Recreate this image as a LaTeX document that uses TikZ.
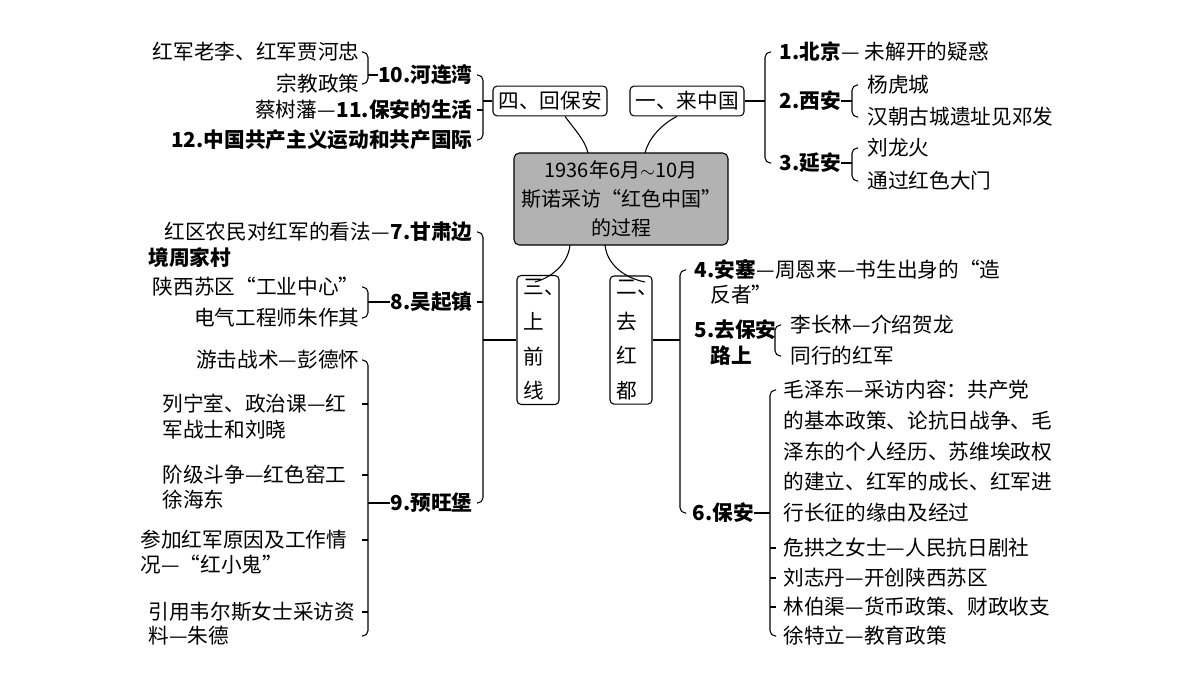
\documentclass[tikz,border=0pt]{standalone}
\usepackage{fontspec}
\setmainfont{Noto Sans CJK SC}
\begin{document}
\begin{tikzpicture}[x=0.75pt,y=-0.75pt,line width=0.8pt,
  every node/.style={font=\fontsize{15.5}{18}\selectfont,inner sep=0pt},
  tw/.style={anchor=west}, te/.style={anchor=east},
  lb/.style={font=\fontsize{15.5}{18}\selectfont\bfseries},
  box/.style={draw,rounded corners=3pt,inner sep=4pt,line width=0.8pt},
  vbox/.style={draw,rounded corners=3pt,minimum width=42\pgflinewidth,text width=22pt,align=left,minimum height=116*0.75pt,inner sep=3pt,font=\fontsize{15.5}{26}\selectfont},
  brk/.style={rounded corners=4pt}]
\useasboundingbox (0,0) rectangle (1200,675);
% center
\node[draw,rounded corners=4pt,fill=black!30,minimum width=214*0.75pt,minimum height=92*0.75pt,align=center,font=\fontsize{15}{22}\selectfont] (c) at (621,199) {1936年6月$\sim$10月\\斯诺采访“红色中国”\\的过程};
\node[box] (b1) at (687,101) {一、来中国};
\node[box] (b4) at (550,101) {四、回保安};
\node[vbox,minimum width=42*0.75pt] (b3) at (538,340) {三、\\上\\前\\线};
\node[vbox,minimum width=42*0.75pt] (b2) at (631,340) {二、\\去\\红\\都};
\draw (b4.south) ++(15,0) coordinate (p4) .. controls (575,130) and (585,140) .. (588,153);
\draw (b1.south) ++(-10,0) .. controls (660,125) and (648,140) .. (645,153);
\draw (570,245) .. controls (568,265) and (550,278) .. (535,282);
\draw (605,245) .. controls (607,265) and (625,278) .. (645,282);

% right top
\draw (b1.east) -- (765,101);
\draw[brk] (771,52) -- (765,52) -- (765,163) -- (771,163);
\node[tw,lb] (n1) at (779,52) {1.北京};
\node[tw] (n1a) at (n1.east) {— 未解开的疑惑};
\node[tw,lb] (n2) at (779,101) {2.西安};
\node[tw,lb] (n3) at (779,163) {3.延安};
\draw (n2.east) -- (852,101); \draw (n3.east) -- (852,163);
\draw[brk] (858,85) -- (852,85) -- (852,117) -- (858,117);
\draw[brk] (858,148) -- (852,148) -- (852,181) -- (858,181);
\node[tw] at (867,85) {杨虎城};
\node[tw] at (867,117) {汉朝古城遗址见邓发};
\node[tw] at (867,148) {刘龙火};
\node[tw] at (867,181) {通过红色大门};

% right bottom
\draw (b2.east) -- (680,340);
\draw[brk] (686,270) -- (680,270) -- (680,513) -- (686,513);
\node[tw,lb] (n4) at (694,270) {4.安塞};
\node[tw] at (n4.east) {—周恩来—书生出身的“造};
\node[tw] at (710,295) {反者”};
\node[tw,lb] (n5) at (694,330) {5.去保安};
\node[tw,lb] at (710,356) {路上};
\draw[brk] (781,325) -- (775,325) -- (775,356) -- (781,356);
\node[tw] at (790,325) {李长林—介绍贺龙};
\node[tw] at (790,356) {同行的红军};
\node[tw,lb] (n6) at (692,513) {6.保安};
\draw (n6.east) -- (770,513);
\draw[brk] (776,390) -- (770,390) -- (770,636) -- (776,636);
\foreach \y in {548,578,607} \draw (770,\y) -- (776,\y);
\node[tw] at (783,390) {毛泽东—采访内容：共产党};
\node[tw] at (783,421) {的基本政策、论抗日战争、毛};
\node[tw] at (783,452) {泽东的个人经历、苏维埃政权};
\node[tw] at (783,482) {的建立、红军的成长、红军进};
\node[tw] at (783,513) {行长征的缘由及经过};
\node[tw] at (783,548) {危拱之女士—人民抗日剧社};
\node[tw] at (783,578) {刘志丹—开创陕西苏区};
\node[tw] at (783,607) {林伯渠—货币政策、财政收支};
\node[tw] at (783,636) {徐特立—教育政策};

% left top
\draw (b4.west) -- (483,101);
\draw[brk] (477,75) -- (483,75) -- (483,140) -- (477,140);
\draw (477,110) -- (483,110);
\node[te,lb] (n10) at (473,75) {10.河连湾};
\node[te,lb] (n11) at (473,110) {11.保安的生活};
\node[te] at (n11.west) {蔡树藩—};
\node[te,lb] (n12) at (473,140) {12.中国共产主义运动和共产国际};
\draw (n10.west) -- (368,75);
\draw[brk] (362,52) -- (368,52) -- (368,84) -- (362,84);
\node[te] at (360,52) {红军老李、红军贾河忠};
\node[te] at (360,84) {宗教政策};

% left bottom
\draw (b3.west) -- (483,340);
\draw[brk] (477,232) -- (483,232) -- (483,503) -- (477,503);
\draw (477,302) -- (483,302);
\node[te,lb] (n7) at (473,232) {7.甘肃边};
\node[te] at (n7.west) {红区农民对红军的看法— };
\node[tw,lb] at (148,258) {境周家村};
\node[te,lb] (n8) at (473,302) {8.吴起镇};
\draw (n8.west) -- (368,302);
\draw[brk] (362,287) -- (368,287) -- (368,318) -- (362,318);
\node[te] at (360,287) {陕西苏区“工业中心”};
\node[te] at (360,318) {电气工程师朱作其};
\node[te,lb] (n9) at (473,503) {9.预旺堡};
\draw (n9.west) -- (368,503);
\draw[brk] (362,360) -- (368,360) -- (368,636) -- (362,636);
\foreach \y in {404,475,540,612} \draw (362,\y) -- (368,\y);
\node[te] at (360,360) {游击战术—彭德怀};
\node[tw] at (162,404) {列宁室、政治课—红};
\node[tw] at (162,430) {军战士和刘晓};
\node[tw] at (162,475) {阶级斗争—红色窑工};
\node[tw] at (162,500) {徐海东};
\node[tw] at (140,540) {参加红军原因及工作情};
\node[tw] at (140,565) {况—“红小鬼”};
\node[tw] at (148,612) {引用韦尔斯女士采访资};
\node[tw] at (148,636) {料—朱德};
\end{tikzpicture}
\end{document}
